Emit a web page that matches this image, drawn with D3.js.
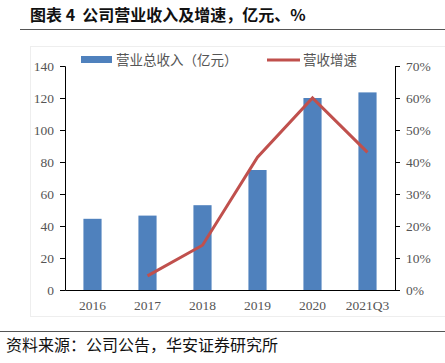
<!DOCTYPE html>
<html>
<head>
<meta charset="utf-8">
<script src="https://cdn.jsdelivr.net/npm/d3@7"></script>
<style>
  body { margin: 0; background: #fff; }
  svg { display: block; }
</style>
</head>
<body>
<svg width="445" height="363"></svg>
<script>
const svg = d3.select("svg"),
      width = +svg.attr("width"),
      height = +svg.attr("height");

// 数据
const years = ["2016", "2017", "2018", "2019", "2020", "2021Q3"];
const revenue = [44.5, 46.5, 53, 75, 120, 123.5];
const growth = [null, 4.4, 14, 41.5, 60, 43];
const leftTicks = [0, 20, 40, 60, 80, 100, 120, 140];
const rightTicks = [0, 10, 20, 30, 40, 50, 60, 70];

const margin = { left: 65, right: 50, top: 66, bottom: 73 };
const plotW = width - margin.left - margin.right,
      plotH = height - margin.top - margin.bottom;

const cjk = "'Noto Sans CJK SC', sans-serif";
const serif = "'Liberation Serif', 'Times New Roman', serif";

// 标题
svg.append("text")
    .attr("x", 30).attr("y", 21)
    .attr("font-family", cjk).attr("font-weight", "bold")
    .attr("font-size", 16).attr("fill", "#111")
    .attr("xml:space", "preserve")
    .text("图表 4  公司营业收入及增速，亿元、%");

svg.append("line")
    .attr("x1", 20).attr("x2", width).attr("y1", 29.5).attr("y2", 29.5)
    .attr("stroke", "#555").attr("stroke-width", 1);

// 淡色边框
svg.append("rect")
    .attr("x", 30.5).attr("y", 46.5).attr("width", 420).attr("height", 270)
    .attr("fill", "none").attr("stroke", "#eee");

const x = d3.scaleBand().domain(years).range([0, plotW]).paddingInner(0.67).paddingOuter(0.335);
const xPoint = d => x(d) + x.bandwidth() / 2;
const yL = d3.scaleLinear().domain([0, 140]).range([plotH, 0]);
const yR = d3.scaleLinear().domain([0, 70]).range([plotH, 0]);

const g = svg.append("g").attr("transform", `translate(${margin.left},${margin.top})`);

// 柱子
g.selectAll("rect.bar")
    .data(revenue)
    .enter().append("rect")
    .attr("class", "bar")
    .attr("x", (d, i) => x(years[i]))
    .attr("width", x.bandwidth())
    .attr("y", d => yL(d))
    .attr("height", d => plotH - yL(d))
    .attr("fill", "#4F81BD");

// 折线
const line = d3.line()
    .defined(d => d.v != null)
    .x(d => xPoint(d.year))
    .y(d => yR(d.v));

g.append("path")
    .datum(years.map((y, i) => ({ year: y, v: growth[i] })))
    .attr("d", line)
    .attr("fill", "none")
    .attr("stroke", "#C0504D")
    .attr("stroke-width", 3);

// 坐标轴
function styleAxis(sel) {
    sel.select(".domain").attr("stroke", "#000");
    sel.selectAll(".tick line").attr("stroke", "#000");
    sel.selectAll("text")
        .attr("font-family", serif)
        .attr("font-size", 13.5)
        .attr("fill", "#555");
}

g.append("g")
    .call(d3.axisLeft(yL).tickValues(leftTicks).tickSize(5).tickSizeOuter(5).tickPadding(6))
    .call(styleAxis);

g.append("g")
    .attr("transform", `translate(${plotW},0)`)
    .call(d3.axisRight(yR).tickValues(rightTicks).tickSize(5).tickSizeOuter(5).tickPadding(6)
        .tickFormat(d => d + "%"))
    .call(styleAxis);

g.append("g")
    .attr("transform", `translate(0,${plotH})`)
    .call(d3.axisBottom(x).tickSize(0).tickPadding(10))
    .call(styleAxis);

// 图例
const legend = svg.append("g").attr("font-family", cjk).attr("font-size", 13.5).attr("fill", "#555");
legend.append("rect").attr("x", 81).attr("y", 56).attr("width", 31).attr("height", 7).attr("fill", "#4F81BD");
legend.append("text").attr("x", 116).attr("y", 65).text("营业总收入（亿元）");
legend.append("line").attr("x1", 267).attr("x2", 300).attr("y1", 60).attr("y2", 60)
    .attr("stroke", "#C0504D").attr("stroke-width", 3);
legend.append("text").attr("x", 303).attr("y", 65).text("营收增速");

// 底部
svg.append("line")
    .attr("x1", 0).attr("x2", width).attr("y1", 331.5).attr("y2", 331.5)
    .attr("stroke", "#555");
svg.append("text")
    .attr("x", 6).attr("y", 351)
    .attr("font-family", cjk).attr("font-size", 16).attr("fill", "#111")
    .text("资料来源：公司公告，华安证券研究所");
</script>
</body>
</html>
